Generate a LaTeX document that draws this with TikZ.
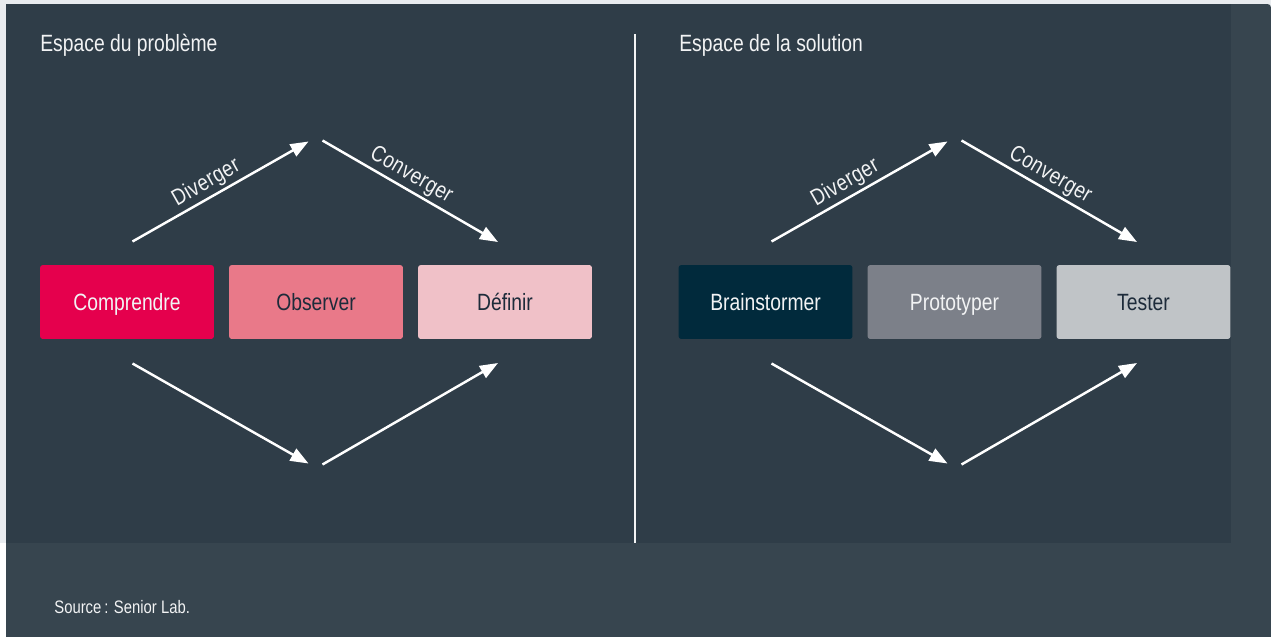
\documentclass[tikz,border=0pt]{standalone}
\usepackage{fontspec}
\setmainfont{Liberation Sans}[FakeStretch=0.82]
\newfontfamily\spacedfont{Liberation Sans}[FakeStretch=0.82, LetterSpace=2]
\usepackage{xcolor}
\usepackage{tikz}
\usetikzlibrary{arrows.meta}
\definecolor{pagebg}{RGB}{233,236,239}
\definecolor{framebg}{RGB}{55,69,79}
\definecolor{panelbg}{RGB}{47,61,72}
\definecolor{txtlight}{RGB}{242,243,244}
\definecolor{txtdark}{RGB}{29,43,58}
\definecolor{comprendre}{RGB}{229,0,77}
\definecolor{observer}{RGB}{233,121,137}
\definecolor{definir}{RGB}{240,193,200}
\definecolor{brainstorm}{RGB}{1,42,60}
\definecolor{prototyper}{RGB}{124,128,137}
\definecolor{tester}{RGB}{192,196,199}

\begin{document}
\begin{tikzpicture}[
  x=0.02cm, y=-0.02cm,
  phase/.style={rounded corners=1.6pt, minimum width=3.48cm, minimum height=1.48cm,
                inner sep=0, text height=0.95em, text depth=0pt,
                font=\fontsize{13.4}{16}\selectfont},
  onlight/.style={phase, text=txtdark},
  ondark/.style={phase, text=txtlight},
  hdr/.style={anchor=base west, inner sep=0, text=txtlight,
              font=\fontsize{13.4}{16}\selectfont},
  lbl/.style={sloped, above, inner sep=1.5pt, text=txtlight,
              font=\spacedfont\fontsize{13}{16}\selectfont},
  flow/.style={draw=white, line width=1.4pt,
               -{Triangle[length=0.36cm, width=0.27cm]}},
]
\useasboundingbox (0,0) rectangle (1271,636);
% ---- fond, cadre et panneau
\fill[pagebg] (0,0) rectangle (1271,636);
\fill[white] (0,543) rectangle (6,636);
\fill[framebg, rounded corners=2pt] (6,4) rectangle (1271,660);
\fill[panelbg] (6,4) rectangle (1231,543);
\coordinate (sepTop) at (635,34);
\coordinate (sepBot) at (635,543);
\draw[txtlight, line width=0.6pt] (sepTop) -- (sepBot);

\node[hdr] (hdrp) at (40,51) {Espace du problème};
\node[hdr] (hdrs) at (679,51) {Espace de la solution};

% ---- les six étapes
\node[ondark, fill=comprendre] (comprendre) at (127,302) {Comprendre};
\node[onlight, fill=observer] (observer) at (316,302) {Observer};
\node[onlight, fill=definir] (definir) at (505,302) {Définir};
\node[ondark, fill=brainstorm] (brainstormer) at (765.5,302) {Brainstormer};
\node[ondark, fill=prototyper] (prototyper) at (954.5,302) {Prototyper};
\node[onlight, fill=tester] (tester) at (1143.5,302) {Tester};

% ---- losanges diverger / converger, un par espace
\foreach \xo/\tag in {0/p, 639/s} {
  \coordinate (\tag ds) at (\xo+132.5,241.5);
  \coordinate (\tag dt) at (\xo+308.5,141.5);
  \coordinate (\tag cs) at (\xo+322.5,140.5);
  \coordinate (\tag ct) at (\xo+498,242);
  \coordinate (\tag bs) at (\xo+132.5,363.5);
  \coordinate (\tag bt) at (\xo+308.5,463.5);
  \coordinate (\tag rs) at (\xo+322.5,464.5);
  \coordinate (\tag rt) at (\xo+498,363);
  \draw[flow] (\tag ds) -- node[lbl, pos=.46] {Diverger} (\tag dt);
  \draw[flow] (\tag cs) -- node[lbl, pos=.465] {Converger} (\tag ct);
  \draw[flow] (\tag bs) -- (\tag bt);
  \draw[flow] (\tag rs) -- (\tag rt);
}

\node[hdr, font=\fontsize{10.3}{12}\selectfont] (source) at (54,613) {Source\,: Senior Lab.};
\end{tikzpicture}
\end{document}
